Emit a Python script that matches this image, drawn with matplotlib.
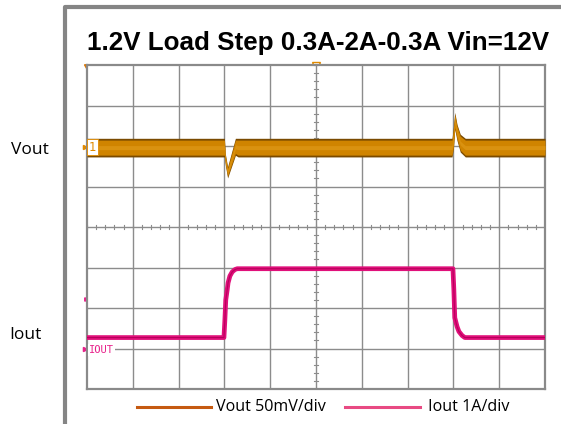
import matplotlib
matplotlib.use("Agg")
import matplotlib.pyplot as plt
import numpy as np

# ---------------- data (time in scope divisions) ----------------
title = "1.2V Load Step 0.3A-2A-0.3A Vin=12V"
vout_scale_mv = 50.0   # mV/div
iout_scale_a = 1.0     # A/div
vout_offset_div = 5.97
iout_offset_div = 0.97

vout_t = [0.0, 3.00, 3.02, 3.07, 3.24, 3.30, 7.97, 8.00, 8.03, 8.08, 8.15, 8.26, 10.0]
vout_upper_mv = [11, 11, -8, -24, 11, 11, 11, 25, 43, 28, 16, 11, 11]
vout_lower_mv = [-12, -12, -22, -38, -10, -12, -12, -2, 22, 8, -6, -12, -12]

iout_t = [0.0, 2.99, 3.01, 3.03, 3.06, 3.08, 3.12, 3.17, 3.23, 3.28,
          7.99, 8.01, 8.03, 8.08, 8.12, 8.19, 8.25, 10.0]
iout_a = [0.30, 0.30, 0.73, 1.23, 1.47, 1.65, 1.82, 1.92, 1.98, 2.00,
          2.00, 1.48, 0.79, 0.57, 0.45, 0.35, 0.30, 0.30]

legend_labels = ["Vout 50mV/div", "Iout 1A/div"]
side_labels = ["Vout", "Iout"]

# ---------------- figure ----------------
W, H = 561, 424
fig = plt.figure(figsize=(W / 100, H / 100), dpi=100)
fig.patch.set_facecolor("white")

ov = fig.add_axes([0, 0, 1, 1])
ov.set_xlim(0, W)
ov.set_ylim(H, 0)
ov.axis("off")

# gray frame
ov.plot([65, 65, W + 5], [H + 5, 7, 7], color="#858585", lw=3, solid_capstyle="butt")

ov.text(318, 43, title, ha="center", va="center", fontsize=18.7,
        fontweight="bold", family="Liberation Sans", color="black")

ov.text(11, 150, side_labels[0], ha="left", va="center", fontsize=12.5,
        family="Open Sans", color="black")
ov.text(9, 335, side_labels[1], ha="left", va="center", fontsize=12.5,
        family="Open Sans", color="black")

# legend
ov.plot([137, 211], [407, 407], color="#C55A11", lw=2.2)
ov.text(216, 407, legend_labels[0], ha="left", va="center", fontsize=11.6,
        family="Open Sans", color="black")
ov.plot([345, 420], [407, 407], color="#E84A83", lw=2.2)
ov.text(428, 407, legend_labels[1], ha="left", va="center", fontsize=11.6,
        family="Open Sans", color="black")

# scope axes
gx0, gx1, gy0, gy1 = 87, 545, 65, 389
ax = fig.add_axes([gx0 / W, (H - gy1) / H, (gx1 - gx0) / W, (gy1 - gy0) / H])
ax.set_xlim(0, 10)
ax.set_ylim(0, 8)
ax.set_xticks([])
ax.set_yticks([])
for s in ax.spines.values():
    s.set_color("#8a8a8a")
    s.set_linewidth(1.6)

gc = "#8c8c8c"
for i in range(1, 10):
    ax.axvline(i, color=gc, lw=1.0, zorder=1)
for j in range(1, 8):
    ax.axhline(j, color=gc, lw=1.0, zorder=1)
for k in np.arange(0, 8.01, 0.2):
    ax.plot([4.95, 5.05], [k, k], color=gc, lw=0.8, zorder=1)
for k in np.arange(0, 10.01, 0.2):
    ax.plot([k, k], [3.94, 4.06], color=gc, lw=0.8, zorder=1)

# Vout trace (band)
t = np.array(vout_t)
up = vout_offset_div + np.array(vout_upper_mv) / vout_scale_mv
lo = vout_offset_div + np.array(vout_lower_mv) / vout_scale_mv
ax.fill_between(t, lo, up, color="#7A4A00", lw=0, zorder=3)
inset = 0.045
ax.fill_between(t, lo + inset, up - inset, where=(up - lo) > 2 * inset,
                color="#D08400", lw=0, zorder=4, interpolate=True)
mid = (up + lo) / 2
ax.fill_between(t, mid - 0.05, mid + 0.05, color="#DA9210", lw=0, zorder=5)

# Iout trace
ia = iout_offset_div + np.array(iout_a) / iout_scale_a
ax.plot(iout_t, ia, color="#E0107A", lw=3.4, zorder=6, solid_joinstyle="round")
ax.plot(iout_t, ia, color="#B8005C", lw=0.8, zorder=7)

# channel markers
ax.text(0.03, vout_offset_div, "1", ha="left", va="center", fontsize=8.5,
        color="#E08A00", zorder=8,
        bbox=dict(boxstyle="square,pad=0.15", fc="white", ec="#E08A00", lw=0.6))
ax.text(0.05, iout_offset_div, "IOUT", ha="left", va="center", fontsize=7.5,
        color="#E8208A", family="DejaVu Sans Mono", zorder=8,
        bbox=dict(boxstyle="square,pad=0.1", fc="white", ec="none"))
ov.plot([87], [66], marker=(3, 0, 180), color="#E07800", ms=5, zorder=10)
ov.plot([316], [66], marker="v", mfc="white", mec="#E08A00", ms=6, mew=1, zorder=10)
ov.plot([85], [147], marker=">", color="#E08A00", ms=3, zorder=10)
ov.plot([85], [349], marker=">", color="#E8208A", ms=3, zorder=10)
ov.plot([86], [299], marker=">", color="#E8208A", ms=2.5, zorder=10)

fig.savefig("out.png", dpi=100)
